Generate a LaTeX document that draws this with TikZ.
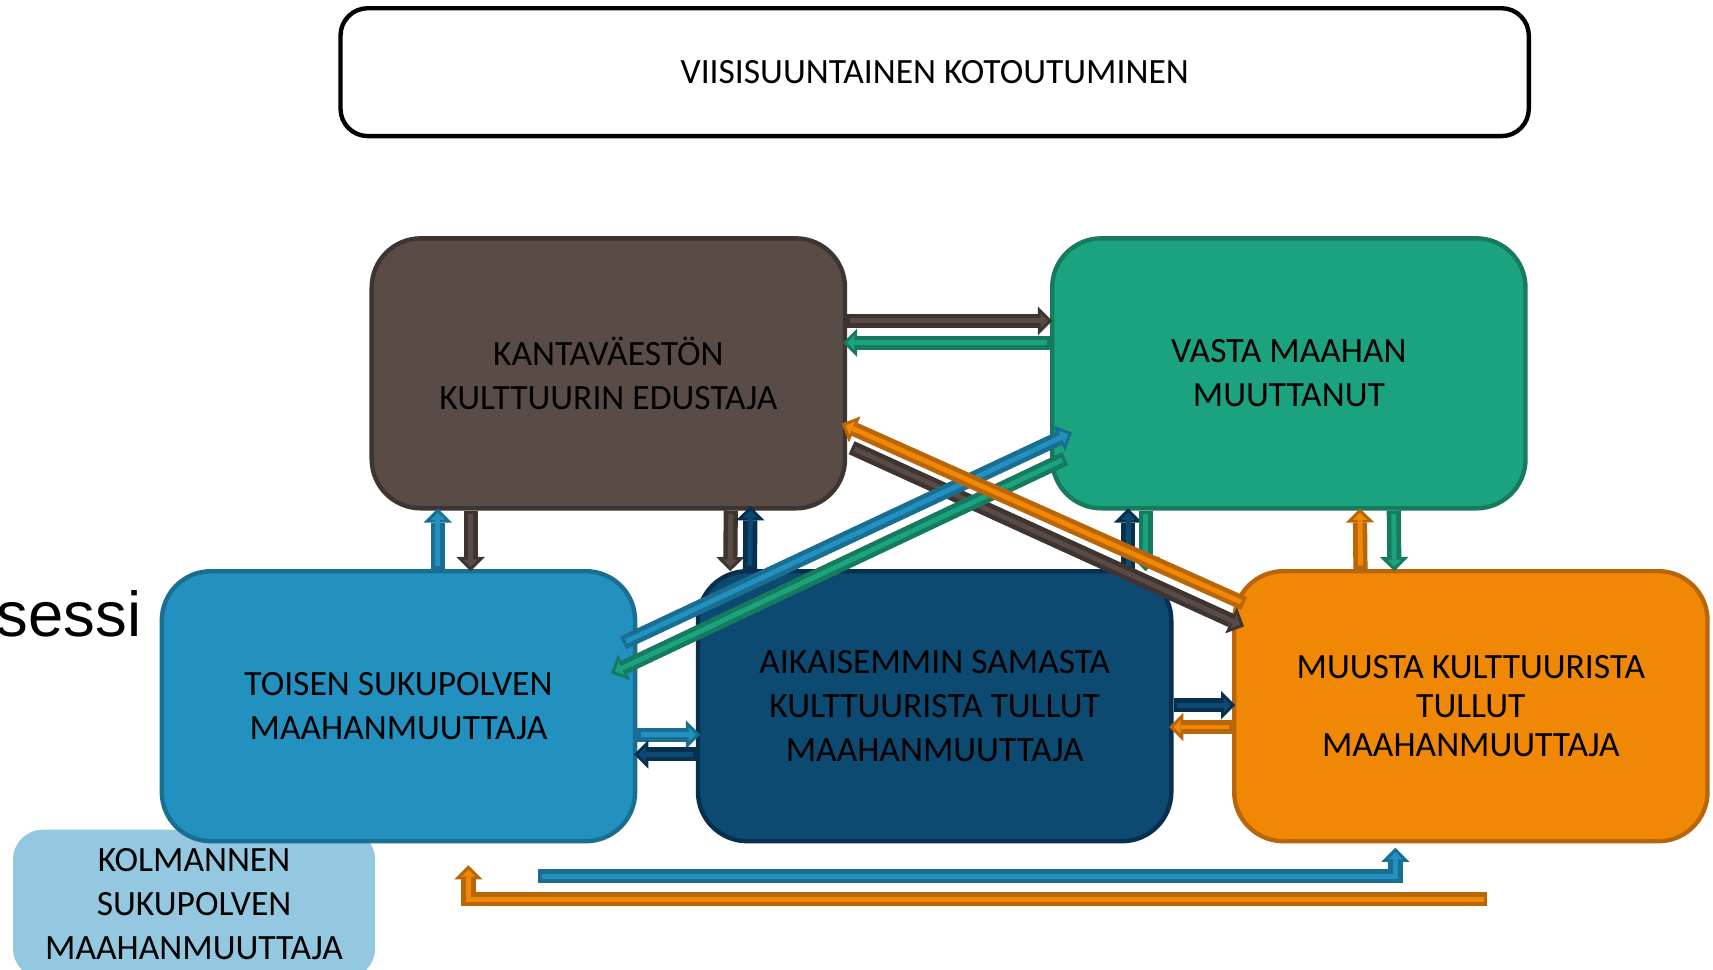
\documentclass[tikz,border=0pt]{standalone}
\usepackage{fontspec}
\setmainfont{Carlito}
\newfontfamily\arialfont{Liberation Sans}
\usepackage{tikz}
\usetikzlibrary{arrows.meta,calc}

\definecolor{kantafill}{HTML}{594C47}
\definecolor{kantaline}{HTML}{3E3431}
\definecolor{vastafill}{HTML}{1BA37F}
\definecolor{vastaline}{HTML}{167A5E}
\definecolor{toisenfill}{HTML}{2291C0}
\definecolor{toisenline}{HTML}{1A6E92}
\definecolor{aikaifill}{HTML}{0C4A72}
\definecolor{aikailine}{HTML}{07304F}
\definecolor{muustafill}{HTML}{F08705}
\definecolor{muustaline}{HTML}{B9650A}
\definecolor{kolmfill}{HTML}{93C8E0}

\begin{document}
\begin{tikzpicture}[x=1pt,y=-1pt,
    box/.style 2 args={draw=#2, fill=#1, line width=4pt, rounded corners=45pt,
      minimum width=433pt, minimum height=247pt, align=center,
      font=\fontsize{32.5}{40}\selectfont},
    arr/.style 2 args={draw=#2, line width=13pt,
      -{Triangle[length=13pt,width=26pt,line width=0pt]},
      postaction={draw=#1, line width=4.5pt, shorten <=3pt, shorten >=4pt,
        -{Triangle[length=6.5pt,width=13pt,line width=0pt]}}}]
      \useasboundingbox (0,0) rectangle (1567,887);
      \node[fill=kolmfill, rounded corners=27pt, minimum width=331pt, minimum height=136pt,
        align=center, font=\fontsize{32.5}{40}\selectfont] (kolm) at (177.5,827)
        {KOLMANNEN\\SUKUPOLVEN\\MAAHANMUUTTAJA};
      \node[draw, line width=4pt, rounded corners=25pt, minimum width=1087pt, minimum height=117pt,
        font=\fontsize{32.5}{40}\selectfont] (title) at (855,66) {VIISISUUNTAINEN KOTOUTUMINEN};
      \node[box={kantafill}{kantaline}] (kanta) at (556.5,341.5) {KANTAVÄESTÖN\\KULTTUURIN EDUSTAJA};
      \node[box={vastafill}{vastaline}] (vasta) at (1179,341.5) {VASTA MAAHAN\\MUUTTANUT};
      \node[box={toisenfill}{toisenline}] (toisen) at (364.5,646) {TOISEN SUKUPOLVEN\\MAAHANMUUTTAJA};
      \node[box={aikaifill}{aikailine}] (aikai) at (855,646) {AIKAISEMMIN SAMASTA\\KULTTUURISTA TULLUT\\MAAHANMUUTTAJA};
      \node[box={muustafill}{muustaline}, font=\fontsize{32.5}{36}\selectfont] (muusta) at (1345.5,646)
        {MUUSTA KULTTUURISTA\\TULLUT\\MAAHANMUUTTAJA};
      \node[anchor=base west, inner sep=0pt, font=\arialfont\fontsize{58}{60}\selectfont] (sessi) at (-3,582) {sessi};
      % upper row
      \draw[arr={kantafill}{kantaline}] ($(kanta.east)+(0,-48)$) -- ($(vasta.west)+(2,-48)$);
      \draw[arr={vastafill}{vastaline}] ($(vasta.west)+(0,-28)$) -- ($(kanta.east)+(-4,-28)$);
      % verticals
      \draw[arr={kantafill}{kantaline}] ($(kanta.south)+(-126,0)$) -- ($(toisen.north)+(66,2)$);
      \draw[arr={toisenfill}{toisenline}] ($(toisen.north)+(36,0)$) -- ($(kanta.south)+(-156,-2)$);
      \draw[arr={kantafill}{kantaline}] ($(kanta.south)+(112,0)$) -- ($(aikai.north)+(-187,2)$);
      \draw[arr={aikaifill}{aikailine}] ($(aikai.north)+(-169,0)$) -- ($(kanta.south)+(130,-4)$);
      \draw[arr={aikaifill}{aikailine}] ($(aikai.north)+(177,0)$) -- ($(vasta.south)+(-147,-2)$);
      \draw[arr={vastafill}{vastaline}] ($(vasta.south)+(-131,0)$) -- ($(aikai.north)+(193,2)$);
      \draw[arr={muustafill}{muustaline}] ($(muusta.north)+(-101,0)$) -- ($(vasta.south)+(65,-2)$);
      \draw[arr={vastafill}{vastaline}] ($(vasta.south)+(96,0)$) -- ($(muusta.north)+(-70,2)$);
      % lower row
      \draw[arr={aikaifill}{aikailine}] ($(aikai.east)+(0,-1)$) -- ($(muusta.west)+(3,-1)$);
      \draw[arr={muustafill}{muustaline}] ($(muusta.west)+(0,19)$) -- ($(aikai.east)+(-4,19)$);
      \draw[arr={toisenfill}{toisenline}] ($(toisen.east)+(0,26)$) -- ($(aikai.west)+(4,26)$);
      \draw[arr={aikaifill}{aikailine}] ($(aikai.west)+(0,44)$) -- ($(toisen.east)+(-3,44)$);
      % diagonals
      \draw[arr={kantafill}{kantaline}] ($(kanta.east)+(4,68)$) -- ($(muusta.west)+(11,-73)$);
      \draw[arr={toisenfill}{toisenline}] ($(toisen.east)+(-13,-58)$) -- ($(vasta.west)+(20,54)$);
      \draw[arr={vastafill}{vastaline}] ($(vasta.west)+(14,78)$) -- ($(toisen.east)+(-24,-30)$);
      \draw[arr={muustafill}{muustaline}] ($(muusta.west)+(11,-94)$) -- ($(kanta.east)+(-5,46)$);
      % bottom loops
      \draw[arr={toisenfill}{toisenline}] ($(toisen.south)+(128,30)$) -| ($(muusta.south)+(-69,4)$);
      \draw[arr={muustafill}{muustaline}] ($(muusta.south)+(15,51)$) -| ($(toisen.south)+(64,20)$);
\end{tikzpicture}
\end{document}
